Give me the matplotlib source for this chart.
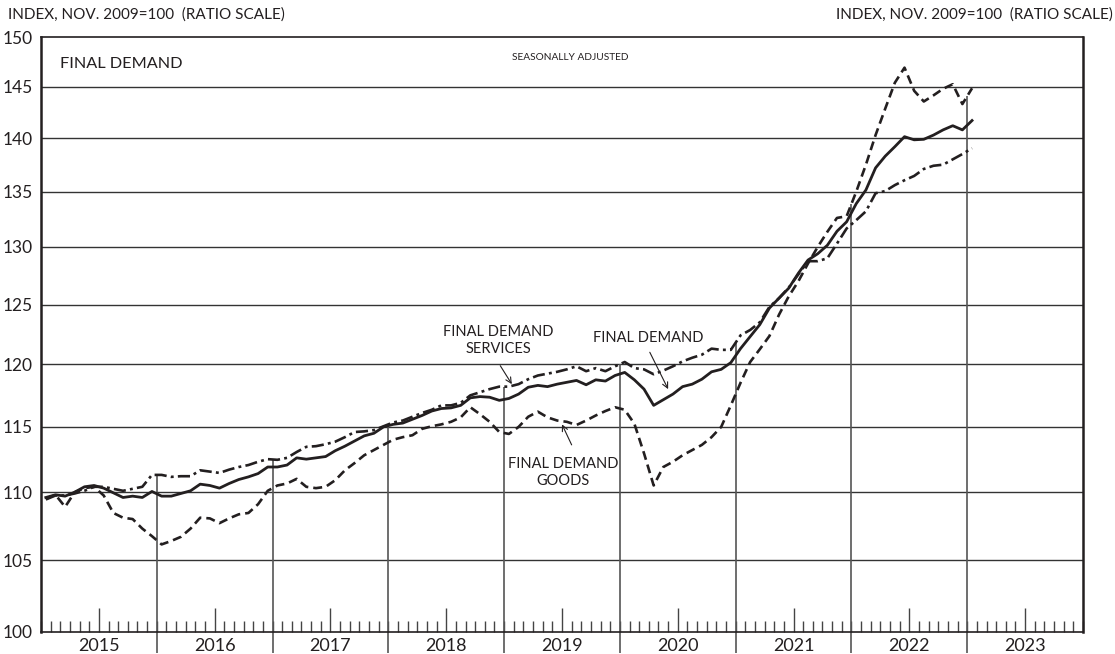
import matplotlib
matplotlib.use("Agg")
import matplotlib.pyplot as plt
import numpy as np
import matplotlib.ticker as ticker

plt.rcParams['font.family'] = ['Lato', 'DejaVu Sans']

# monthly index values, Jan 2015 .. Jan 2023 (Nov. 2009 = 100)
final_demand = [109.6, 109.8, 109.7, 110.0, 110.4, 110.5, 110.3, 109.95, 109.6, 109.7, 109.6, 110.05,
                109.7, 109.7, 109.9, 110.1, 110.6, 110.5, 110.3, 110.65, 110.95, 111.15, 111.4, 111.9,
                111.9, 112.05, 112.6, 112.5, 112.6, 112.7, 113.15, 113.5, 113.9, 114.3, 114.5, 115.0,
                115.2, 115.3, 115.6, 115.9, 116.25, 116.45, 116.5, 116.7, 117.3, 117.4, 117.35, 117.1,
                117.25, 117.6, 118.15, 118.3, 118.2, 118.4, 118.55, 118.7, 118.35, 118.75, 118.65, 119.1,
                119.35, 118.75, 118.0, 116.7, 117.15, 117.6, 118.2, 118.4, 118.8, 119.4, 119.6, 120.15,
                121.3, 122.3, 123.3, 124.7, 125.55, 126.4, 127.7, 128.85, 129.4, 130.15, 131.4, 132.25,
                133.9, 135.15, 137.2, 138.3, 139.2, 140.15, 139.85, 139.9, 140.3, 140.8, 141.2, 140.8,
                141.7]
services = [109.45, 109.75, 109.75, 109.9, 110.1, 110.4, 110.4, 110.25, 110.1, 110.25, 110.4, 111.3,
            111.3, 111.15, 111.2, 111.2, 111.65, 111.55, 111.45, 111.7, 111.9, 112.05, 112.3, 112.5,
            112.45, 112.6, 113.05, 113.45, 113.5, 113.65, 113.85, 114.2, 114.6, 114.65, 114.75, 115.05,
            115.35, 115.5, 115.8, 116.1, 116.35, 116.7, 116.7, 116.9, 117.5, 117.75, 118.0, 118.2,
            118.2, 118.4, 118.8, 119.1, 119.25, 119.4, 119.6, 119.85, 119.45, 119.7, 119.45, 119.85,
            120.2, 119.7, 119.6, 119.2, 119.5, 119.85, 120.25, 120.55, 120.8, 121.3, 121.2, 121.2,
            122.4, 122.85, 123.5, 124.8, 125.55, 126.45, 127.6, 128.75, 128.75, 129.0, 130.3, 131.65,
            132.4, 133.2, 134.85, 135.05, 135.6, 136.05, 136.45, 137.1, 137.4, 137.5, 138.0, 138.5,
            139.05]
goods = [109.5, 109.8, 108.9, 110.0, 110.3, 110.4, 109.75, 108.45, 108.1, 108.0, 107.3, 106.75,
         106.15, 106.4, 106.7, 107.3, 108.1, 108.05, 107.7, 108.05, 108.35, 108.45, 109.1, 110.1,
         110.5, 110.65, 111.0, 110.4, 110.3, 110.4, 110.9, 111.65, 112.2, 112.8, 113.2, 113.6,
         114.0, 114.2, 114.35, 114.85, 115.05, 115.2, 115.4, 115.75, 116.55, 116.0, 115.4, 114.6,
         114.45, 115.0, 115.8, 116.2, 115.75, 115.5, 115.4, 115.15, 115.5, 115.9, 116.25, 116.55,
         116.35, 115.25, 112.95, 110.5, 111.9, 112.3, 112.8, 113.2, 113.6, 114.2, 115.0, 116.7,
         118.5, 120.2, 121.25, 122.35, 124.15, 125.7, 127.0, 128.55, 130.0, 131.35, 132.6, 132.75,
         135.0, 137.5, 140.3, 142.85, 145.4, 146.9, 144.6, 143.55, 144.15, 144.8, 145.25, 143.3,
         144.85]
years = [2015, 2016, 2017, 2018, 2019, 2020, 2021, 2022, 2023]
y_ticks = [100, 105, 110, 115, 120, 125, 130, 135, 140, 145, 150]

ink = '#231f20'
months = np.arange(len(final_demand)) + 0.5

fig = plt.figure(figsize=(11.15, 6.54), dpi=100)
ax = fig.add_axes([41 / 1115, 22 / 654, 1042 / 1115, 595 / 654])
ax.set_yscale('log')
ax.set_xlim(0, 12 * len(years))
ax.set_ylim(100, 150)

# horizontal grid
for v in y_ticks[1:-1]:
    ax.axhline(v, color='#333333', lw=1.0, zorder=1)

# year separators: from below the axis up to the highest curve
top = np.maximum(np.maximum(final_demand, services), goods)
for k in range(1, len(years)):
    xb = 12 * k
    ax.vlines(xb, 98.6, np.interp(xb, months, top), color='#555555', lw=1.2,
              clip_on=False, zorder=2)

ax.plot(months, final_demand, color=ink, lw=2.0, zorder=4)
ax.plot(months, services, color=ink, lw=1.9, dashes=(4.6, 1.6, 1.1, 1.6), zorder=4)
ax.plot(months, goods, color=ink, lw=1.9, dashes=(3.4, 1.9), zorder=4)

ax.yaxis.set_major_locator(ticker.FixedLocator(y_ticks))
ax.yaxis.set_minor_locator(ticker.NullLocator())
ax.set_yticklabels([str(v) for v in y_ticks])
ax.tick_params(axis='y', length=0, pad=6, labelsize=12.5, labelcolor=ink)

ax.set_xticks([12 * k + 6 for k in range(len(years))])
ax.set_xticklabels([str(y) for y in years])
ax.xaxis.set_minor_locator(ticker.MultipleLocator(1))
ax.tick_params(axis='x', which='major', direction='in', length=17, width=1.0,
               color='#444444', pad=4, labelsize=13, labelcolor=ink)
ax.tick_params(axis='x', which='minor', direction='in', length=8, width=1.0,
               color='#444444')

for side in ['left', 'right']:
    ax.spines[side].set_linewidth(1.8)
    ax.spines[side].set_color(ink)
for side in ['top', 'bottom']:
    ax.spines[side].set_linewidth(1.2)
    ax.spines[side].set_color(ink)

fig.text(0.007, 0.978, 'INDEX, NOV. 2009=100  (RATIO SCALE)', fontsize=11, color=ink,
         ha='left', va='center')
fig.text(0.998, 0.978, 'INDEX, NOV. 2009=100  (RATIO SCALE)', fontsize=11, color=ink,
         ha='right', va='center')
ax.text(0.018, 0.955, 'FINAL DEMAND', transform=ax.transAxes, fontsize=11.7, color=ink,
        ha='left', va='center')
ax.text(0.508, 0.966, 'SEASONALLY ADJUSTED', transform=ax.transAxes, fontsize=7.3,
        color=ink, ha='center', va='center')

arrow = dict(arrowstyle='->', color=ink, lw=0.8, shrinkA=0, shrinkB=0)
ax.text(47.4, 122.0, 'FINAL DEMAND\nSERVICES', fontsize=10.5, color=ink, ha='center',
        va='center', linespacing=1.3)
ax.annotate('', xy=(48.8, 118.4), xytext=(47.6, 119.9), arrowprops=arrow)
ax.text(62.9, 122.2, 'FINAL DEMAND', fontsize=10.5, color=ink, ha='center', va='center')
ax.annotate('', xy=(65.0, 118.0), xytext=(63.1, 121.0), arrowprops=arrow)
ax.text(54.1, 111.5, 'FINAL DEMAND\nGOODS', fontsize=10.5, color=ink, ha='center',
        va='center', linespacing=1.3)
ax.annotate('', xy=(54.0, 115.2), xytext=(55.0, 113.6), arrowprops=arrow)

fig.savefig('out.png', dpi=100)
